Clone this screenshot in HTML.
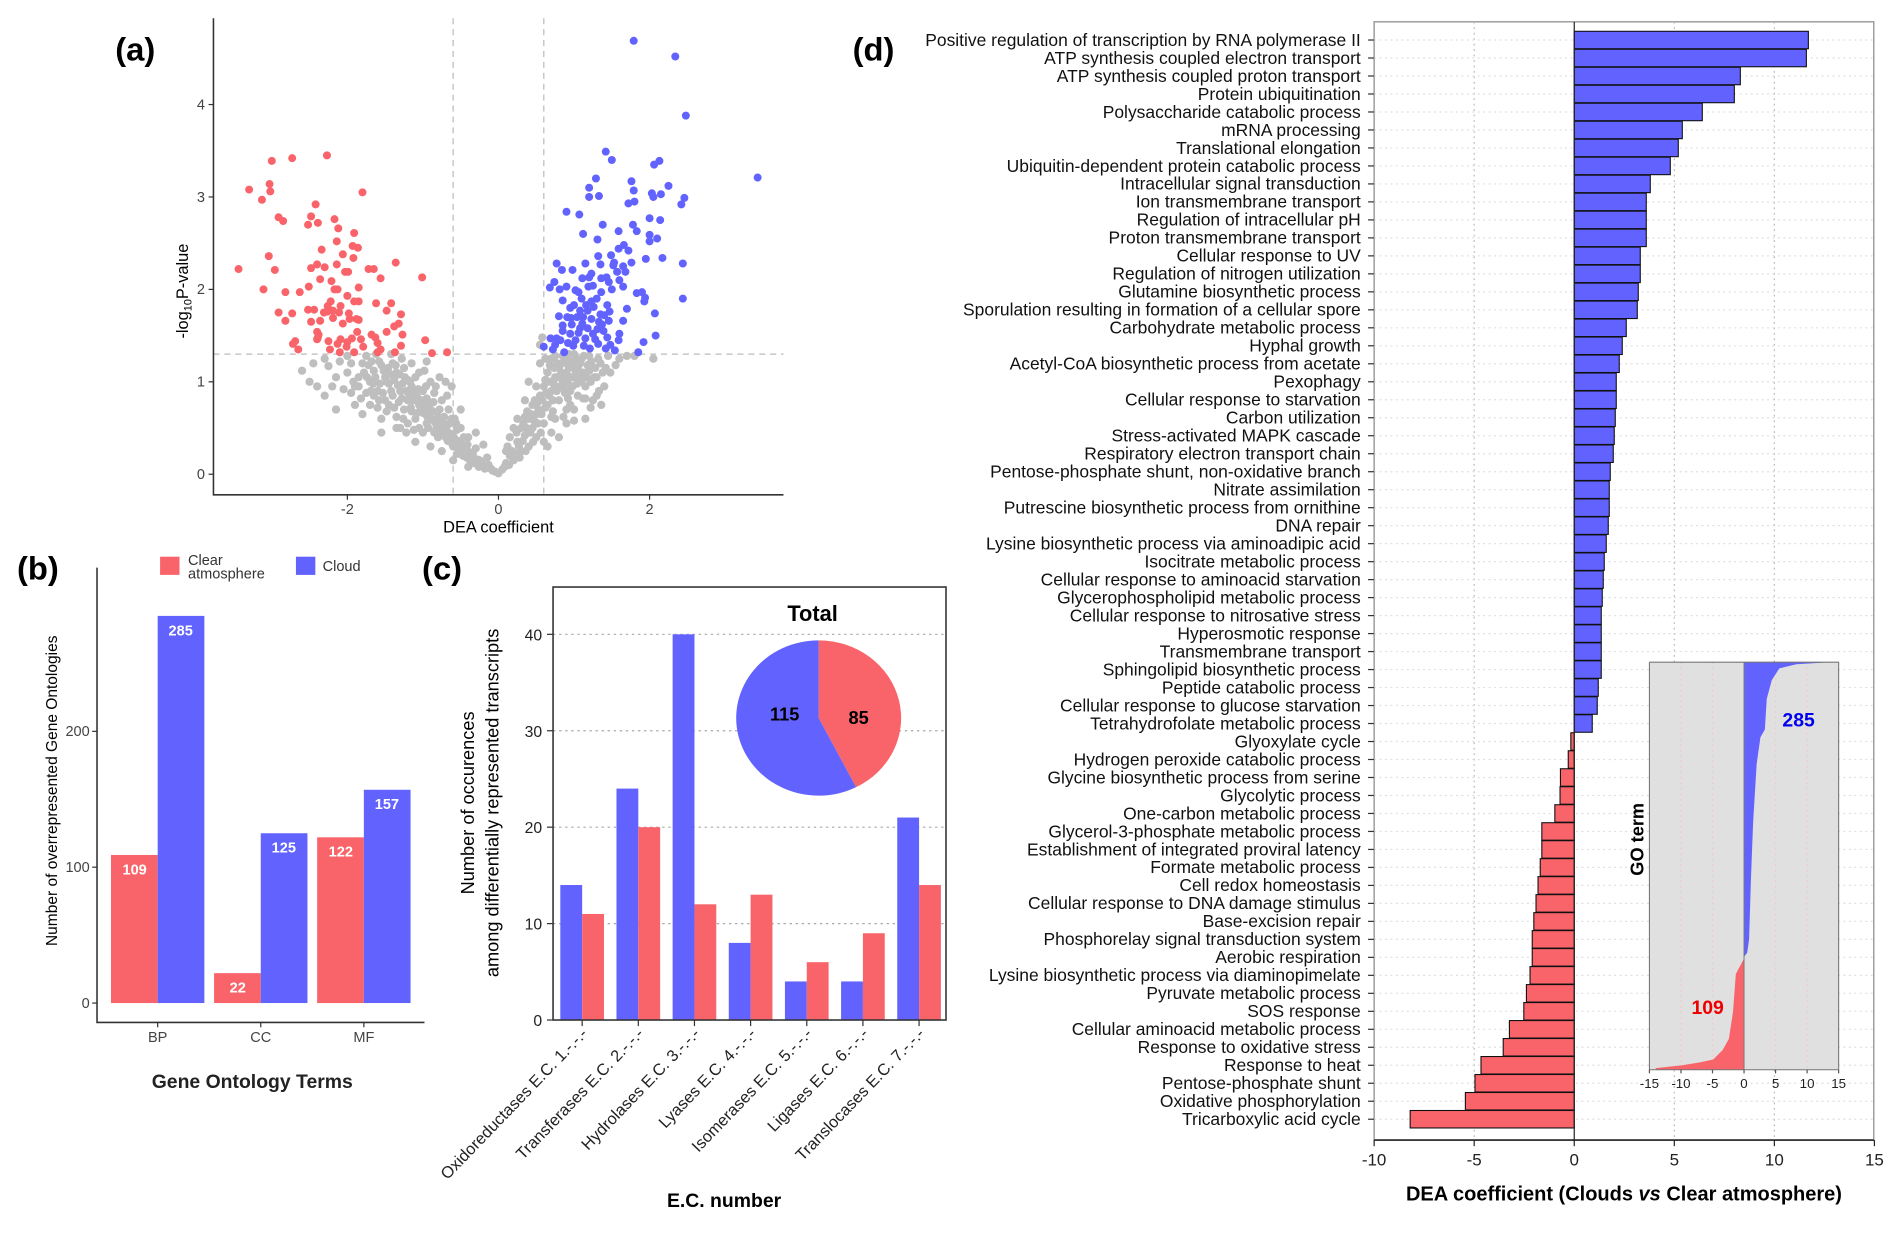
<!DOCTYPE html>
<html><head><meta charset="utf-8"><style>
html,body{margin:0;padding:0;background:#fff;}
svg{display:block;font-family:"Liberation Sans",Arial,sans-serif;}
</style></head><body>
<svg id="fig" width="1892" height="1233" viewBox="0 0 1560 1016.6" preserveAspectRatio="none" xmlns="http://www.w3.org/2000/svg"></svg>
<script>
// ---------- data: panel (a) volcano ----------
const redPts = [[-3.44,2.22],[-3.30,3.08],[-3.13,2.97],[-3.03,3.14],[-3.02,3.06],[-3.0,3.39],[-2.73,3.42],[-2.27,3.45],[-1.80,3.05],[-2.42,2.92],[-2.48,2.79],[-2.91,2.78],[-2.85,2.74],[-2.52,2.70],[-2.39,2.72],[-2.17,2.76],[-2.12,2.66],[-1.91,2.61],[-2.14,2.52],[-1.93,2.47],[-1.86,2.45],[-2.34,2.43],[-2.06,2.38],[-1.92,2.34],[-3.04,2.36],[-2.40,2.27],[-2.30,2.24],[-2.48,2.23],[-2.14,2.27],[-2.03,2.19],[-1.99,2.19],[-1.72,2.22],[-1.65,2.22],[-1.36,2.29],[-1.01,2.13],[-1.56,2.12],[-2.96,2.21],[-2.36,2.11],[-2.21,2.09],[-1.85,2.02],[-2.17,2.0],[-2.13,2.0],[-3.11,2.0],[-2.82,1.97],[-2.63,1.97],[-2.51,2.03],[-2.0,1.93],[-1.91,1.87],[-1.85,1.87],[-2.22,1.87],[-2.26,1.82],[-2.31,1.75],[-2.26,1.76],[-2.19,1.77],[-1.62,1.85],[-1.42,1.85],[-2.09,1.82],[-2.11,1.75],[-2.91,1.75],[-2.73,1.74],[-2.52,1.78],[-2.44,1.78],[-1.98,1.74],[-1.48,1.77],[-1.29,1.73],[-2.82,1.66],[-2.48,1.65],[-2.36,1.66],[-2.19,1.69],[-2.06,1.63],[-1.97,1.68],[-1.88,1.68],[-1.85,1.67],[-1.38,1.6],[-1.32,1.63],[-1.48,1.54],[-1.68,1.51],[-1.63,1.48],[-1.82,1.46],[-1.87,1.54],[-2.40,1.54],[-2.38,1.51],[-2.40,1.46],[-2.39,1.48],[-2.25,1.44],[-2.13,1.41],[-2.09,1.46],[-2.0,1.43],[-1.94,1.47],[-2.72,1.41],[-2.69,1.44],[-2.65,1.35],[-2.23,1.35],[-2.10,1.32],[-2.01,1.38],[-1.91,1.32],[-1.79,1.38],[-1.60,1.42],[-1.56,1.35],[-1.60,1.32],[-1.37,1.32],[-1.29,1.39],[-1.27,1.51],[-0.97,1.45],[-0.88,1.31],[-0.68,1.32]];
const bluePts = [[1.79,4.69],[2.34,4.52],[2.48,3.88],[3.43,3.21],[1.42,3.49],[1.50,3.40],[2.13,3.39],[2.06,3.35],[1.29,3.20],[1.76,3.17],[1.79,3.07],[2.25,3.12],[1.20,3.10],[1.20,3.0],[1.33,3.01],[2.03,3.04],[2.15,3.03],[2.05,3.0],[2.46,2.99],[2.42,2.92],[1.72,2.93],[1.80,2.95],[0.90,2.84],[1.07,2.81],[2.0,2.77],[2.14,2.75],[1.38,2.70],[1.78,2.70],[1.83,2.63],[1.59,2.63],[1.12,2.60],[1.31,2.54],[2.0,2.59],[2.10,2.55],[2.0,2.52],[1.66,2.48],[1.59,2.44],[1.72,2.42],[1.32,2.36],[1.49,2.37],[1.53,2.29],[2.17,2.34],[1.95,2.33],[1.76,2.29],[2.44,2.28],[0.77,2.28],[1.15,2.28],[1.35,2.27],[1.65,2.25],[1.52,2.26],[1.57,2.19],[1.68,2.19],[0.84,2.21],[0.98,2.21],[1.23,2.17],[1.11,2.12],[1.20,2.13],[1.36,2.12],[1.43,2.13],[1.46,2.08],[1.60,2.10],[1.65,2.03],[1.50,2.0],[0.74,2.08],[0.68,2.02],[0.81,2.0],[0.90,2.03],[1.02,1.99],[1.06,1.97],[1.19,2.03],[1.25,2.04],[1.36,1.97],[1.83,1.96],[1.90,1.97],[1.94,1.91],[1.93,1.87],[2.44,1.90],[0.85,1.88],[1.0,1.83],[1.16,1.83],[1.26,1.81],[1.44,1.83],[1.23,1.87],[1.70,1.79],[2.07,1.74],[1.08,1.77],[1.18,1.77],[1.35,1.73],[1.47,1.76],[1.65,1.66],[0.80,1.71],[0.91,1.70],[0.96,1.69],[1.04,1.70],[1.12,1.70],[1.23,1.68],[1.33,1.65],[1.46,1.66],[0.85,1.61],[0.97,1.62],[1.11,1.63],[1.18,1.58],[1.31,1.57],[1.39,1.55],[1.60,1.52],[0.69,1.47],[0.77,1.47],[0.85,1.55],[0.95,1.52],[1.06,1.53],[1.15,1.47],[1.28,1.46],[1.44,1.48],[2.08,1.50],[1.92,1.43],[0.60,1.38],[0.72,1.35],[0.87,1.32],[0.99,1.39],[1.13,1.39],[1.21,1.36],[1.32,1.41],[1.42,1.36],[1.54,1.34],[1.59,1.45],[1.85,1.32],[0.75,1.40],[0.82,1.45],[0.92,1.42],[1.02,1.45],[1.08,1.58],[1.25,1.52],[1.37,1.62],[1.40,1.72],[1.30,1.90],[1.10,1.90],[0.95,1.80],[1.48,1.40]];
const grayPts = [[-2.6,1.12],[-2.4,0.95],[-2.25,1.17],[-2.3,1.25],[-2.1,1.22],[-2.0,1.1],[-1.95,0.88],[-2.05,0.92],[-2.15,0.7],[-1.9,0.95],[-1.85,1.05],[-1.8,1.2],[-1.75,1.28],[-1.7,1.0],[-1.65,1.12],[-1.6,0.9],[-1.55,1.18],[-1.5,1.05],[-1.45,0.98],[-1.4,1.2],[-1.35,1.1],[-1.5,0.8],[-1.6,0.72],[-1.7,0.75],[-1.8,0.65],[-1.55,0.6],[-1.45,0.75],[-1.4,0.85],[-1.3,0.9],[-1.25,0.7],[-1.2,0.8],[-1.15,0.95],[-1.1,0.6],[-1.05,0.75],[-1.0,0.9],[-0.95,0.55],[-0.9,0.7],[-0.85,0.45],[-0.8,0.62],[-0.75,0.8],[-0.7,0.4],[-0.65,0.55],[-0.6,0.3],[-0.55,0.48],[-0.5,0.35],[-0.45,0.25],[-0.4,0.4],[-0.35,0.2],[-0.3,0.28],[-0.25,0.15],[-0.2,0.1],[-0.15,0.18],[-0.1,0.06],[-0.05,0.03],[0,0.01],[-1.2,0.55],[-1.0,0.45],[-1.3,0.5],[-1.35,0.62],[-1.62,1.3],[-1.28,1.25],[-1.2,1.02],[-0.98,1.12],[-0.7,1.0],[-0.68,0.85],[-0.5,0.7],[-0.85,0.88],[-1.1,1.05],[-1.75,0.88],[-1.9,0.75],[-2.0,1.28],[-1.55,0.45],[-1.1,0.35],[-0.9,0.3],[-0.75,0.25],[-0.6,0.15],[-0.4,0.08],[-0.3,0.45],[-0.2,0.32],[-0.58,0.6],[-0.9,1.0],[-1.42,1.3],[-1.85,0.95],[-1.65,0.85],[-1.25,1.15],[-1.05,0.5],[-0.8,0.4],[-0.55,0.22],[-1.48,0.68],[-1.72,1.18],[-1.32,0.78],[-0.95,0.82],[-1.15,0.68],[-0.65,0.38],
[-1.58,1.22],[-1.52,1.12],[-1.48,1.0],[-1.46,1.15],[-1.43,1.08],[-1.38,1.02],[-1.36,1.18],[-1.33,0.96],[-1.31,1.08],[-1.27,0.98],[-1.24,1.05],[-1.22,0.9],[-1.18,0.86],[-1.17,1.0],[-1.13,0.8],[-1.12,0.9],[-1.08,0.84],[-1.06,0.92],[-1.03,0.7],[-1.02,0.8],[-0.99,0.66],[-0.97,0.74],[-0.94,0.62],[-0.92,0.78],[-0.89,0.6],[-0.87,0.68],[-0.84,0.56],[-0.82,0.5],[-0.79,0.58],[-0.77,0.48],[-0.74,0.55],[-0.72,0.45],[-0.69,0.5],[-0.67,0.36],[-0.64,0.44],[-0.62,0.34],[-0.59,0.4],[-0.57,0.3],[-0.54,0.36],[-0.52,0.26],[-0.49,0.3],[-0.47,0.2],[-0.44,0.3],[-0.42,0.18],[-0.39,0.24],[-0.37,0.14],[-0.34,0.22],[-0.32,0.12],[-0.28,0.16],[-0.26,0.08],[-0.22,0.12],[-0.18,0.06],[-0.13,0.1],[-0.08,0.04],[-1.78,1.1],[-1.68,1.22],[-1.66,0.98],[-1.63,1.05],[-1.57,0.98],[-1.53,0.88],[-1.42,0.9],[-1.38,0.72],[-1.28,0.82],[-1.26,0.6],[-1.16,0.72],[-1.08,0.66],[-0.96,0.95],[-0.93,0.5],[-0.86,0.78],[-0.83,0.95],[-0.78,0.7],[-0.72,0.62],[-0.66,0.7],[-0.62,0.6],[-0.56,0.55],[-0.5,0.5],[-0.46,0.4],[-0.41,0.32],[-2.2,0.95],[-2.45,1.2],[-2.15,1.05],[-1.95,1.2],[-1.92,1.0],[-1.82,0.82],[-1.74,1.05],[-1.69,0.9],[-1.58,0.8],[-1.35,0.5],[-1.22,0.45],[-1.12,0.48],[-2.3,0.85],[-2.5,1.0],[-1.15,1.2],[-1.05,1.1],[-0.95,1.22],[-0.62,0.95],[-0.78,1.05],
[0.05,0.05],[0.1,0.12],[0.15,0.2],[0.12,0.3],[0.2,0.15],[0.25,0.35],[0.3,0.25],[0.3,0.5],[0.35,0.42],[0.4,0.3],[0.4,0.6],[0.45,0.5],[0.45,0.75],[0.5,0.4],[0.5,0.65],[0.55,0.85],[0.55,1.2],[0.6,0.55],[0.6,0.95],[0.65,0.75],[0.65,1.1],[0.7,0.9],[0.7,1.25],[0.75,0.6],[0.75,1.05],[0.8,0.8],[0.8,1.15],[0.85,1.0],[0.85,1.28],[0.9,0.7],[0.9,1.1],[0.95,0.9],[0.95,1.22],[1.0,1.05],[1.0,1.3],[1.05,0.85],[1.05,1.15],[1.1,1.0],[1.1,1.25],[1.15,0.95],[1.2,1.12],[1.2,1.28],[1.25,0.8],[1.3,1.05],[1.35,1.2],[1.4,0.95],[1.45,1.28],[1.6,1.25],[0.35,0.8],[0.5,0.95],[0.6,0.35],[0.7,0.45],[0.2,0.5],[0.15,0.4],[0.25,0.6],[0.4,1.0],[0.55,1.4],[0.58,1.48],[1.8,1.28],[2.05,1.25],[0.9,0.55],[1.0,0.7],[0.8,0.4],[0.65,0.3],[0.1,0.25],[1.15,0.6],[0.72,0.68],[0.88,0.88],[0.98,1.18],[1.12,0.82],[0.62,1.02],[0.78,1.2],[0.52,0.78],[0.35,0.62],[0.28,0.18],[1.28,1.15],[0.93,1.3],
[0.08,0.08],[0.14,0.1],[0.18,0.25],[0.22,0.22],[0.24,0.45],[0.27,0.3],[0.32,0.36],[0.33,0.55],[0.37,0.5],[0.38,0.68],[0.42,0.45],[0.43,0.65],[0.47,0.58],[0.48,0.8],[0.52,0.55],[0.53,0.7],[0.57,0.65],[0.58,0.8],[0.62,0.72],[0.63,0.88],[0.67,0.85],[0.68,1.0],[0.72,0.8],[0.73,0.98],[0.74,1.15],[0.77,0.9],[0.78,1.05],[0.82,0.95],[0.83,1.1],[0.84,1.2],[0.87,0.92],[0.88,1.05],[0.89,1.22],[0.92,0.98],[0.93,1.15],[0.97,1.05],[0.98,0.95],[1.02,1.12],[1.03,1.25],[1.04,0.98],[1.07,1.05],[1.08,1.2],[1.12,1.1],[1.13,1.28],[1.17,1.05],[1.18,1.18],[1.22,1.0],[1.23,1.22],[1.27,1.05],[1.32,1.25],[1.33,0.9],[1.38,1.1],[1.42,1.15],[1.36,0.75],[1.3,0.85],[1.22,0.72],[0.95,0.75],[0.86,0.62],[0.7,0.62],[0.56,0.45],[0.46,0.35],[0.36,0.25],[0.62,1.25],[0.68,1.18],[0.92,0.82],[1.48,1.1],[1.55,1.18],[1.7,1.28],[0.75,1.28],[1.15,0.82],[1.0,0.58]];
const aXTicks = [-2,0,2];
const aYTicks = [0,1,2,3,4];

// ---------- data: panel (b) ----------
const bCats = ["BP","CC","MF"];
const bClear = [109,22,122];
const bCloud = [285,125,157];
const bYTicks = [0,100,200];

// ---------- data: panel (c) ----------
const cCats = ["Oxidoreductases E.C. 1.-.-.-","Transferases E.C. 2.-.-.-","Hydrolases E.C. 3.-.-.-","Lyases E.C. 4.-.-.-","Isomerases E.C. 5.-.-.-","Ligases E.C. 6.-.-.-","Translocases E.C. 7.-.-.-"];
const cCloud = [14,24,40,8,4,4,21];
const cClear = [11,20,12,13,6,9,14];
const cYTicks = [0,10,20,30,40];
const pieVals = [85,115];

// ---------- data: panel (d) ----------
const dTerms = ["Positive regulation of transcription by RNA polymerase II","ATP synthesis coupled electron transport","ATP synthesis coupled proton transport","Protein ubiquitination","Polysaccharide catabolic process","mRNA processing","Translational elongation","Ubiquitin-dependent protein catabolic process","Intracellular signal transduction","Ion transmembrane transport","Regulation of intracellular pH","Proton transmembrane transport","Cellular response to UV","Regulation of nitrogen utilization","Glutamine biosynthetic process","Sporulation resulting in formation of a cellular spore","Carbohydrate metabolic process","Hyphal growth","Acetyl-CoA biosynthetic process from acetate","Pexophagy","Cellular response to starvation","Carbon utilization","Stress-activated MAPK cascade","Respiratory electron transport chain","Pentose-phosphate shunt, non-oxidative branch","Nitrate assimilation","Putrescine biosynthetic process from ornithine","DNA repair","Lysine biosynthetic process via aminoadipic acid","Isocitrate metabolic process","Cellular response to aminoacid starvation","Glycerophospholipid metabolic process","Cellular response to nitrosative stress","Hyperosmotic response","Transmembrane transport","Sphingolipid biosynthetic process","Peptide catabolic process","Cellular response to glucose starvation","Tetrahydrofolate metabolic process","Glyoxylate cycle","Hydrogen peroxide catabolic process","Glycine biosynthetic process from serine","Glycolytic process","One-carbon metabolic process","Glycerol-3-phosphate metabolic process","Establishment of integrated proviral latency","Formate metabolic process","Cell redox homeostasis","Cellular response to DNA damage stimulus","Base-excision repair","Phosphorelay signal transduction system","Aerobic respiration","Lysine biosynthetic process via diaminopimelate","Pyruvate metabolic process","SOS response","Cellular aminoacid metabolic process","Response to oxidative stress","Response to heat","Pentose-phosphate shunt ","Oxidative phosphorylation","Tricarboxylic acid cycle"];
const dValues = [11.7,11.6,8.3,8.0,6.4,5.4,5.2,4.8,3.8,3.6,3.6,3.6,3.3,3.3,3.2,3.15,2.6,2.4,2.25,2.1,2.1,2.05,2.0,1.95,1.8,1.75,1.75,1.7,1.6,1.5,1.45,1.4,1.35,1.35,1.35,1.35,1.2,1.15,0.9,-0.17,-0.3,-0.69,-0.71,-0.97,-1.62,-1.62,-1.7,-1.81,-1.91,-2.02,-2.1,-2.1,-2.21,-2.39,-2.52,-3.24,-3.55,-4.66,-4.96,-5.44,-8.2];
const dXTicks = [-10,-5,0,5,10,15];
// inset cumulative curves: rank fraction (0=top) and value
const insBlueRank = [0,0.005,0.015,0.044,0.09,0.165,0.184,0.25,0.39,0.53,0.68,0.713,0.723];
const insBlueVal = [13.6,8.3,5.6,4.4,3.6,3.3,2.6,2.0,1.45,1.1,0.8,0.5,0];
const insRedRank = [0.727,0.765,0.858,0.924,0.952,0.975,0.982,0.989,0.996];
const insRedVal = [0,-1.3,-1.75,-2.4,-3.4,-4.9,-7,-9.8,-14];
const insXTicks = [-15,-10,-5,0,5,10,15];

const RED = "#F9646A", BLUE = "#6262FF", GRAY = "#BEBEBE";
const svg = document.getElementById('fig');
const NS = "http://www.w3.org/2000/svg";
function mk(tag, attrs, parent){
  const e = document.createElementNS(NS, tag);
  for (const k in attrs) e.setAttribute(k, attrs[k]);
  (parent||svg).appendChild(e);
  return e;
}
function txt(s, attrs, parent){ const e = mk('text', attrs, parent); e.textContent = s; return e; }

// ================= Panel (a) =================
const gA = mk('g', {});


const ax = v => 411 + v*62.3;
const ay = v => 391 - v*76.2;
let t = txt('(a)', {x:95, y:50, 'font-size':27, 'font-weight':'bold'}, gA);


let l;
l = mk('line', {x1:ax(-0.6), x2:ax(-0.6), y1:15, y2:408, stroke:'#bbb', 'stroke-dasharray':'5,4', 'stroke-width':1}, gA);


l = mk('line', {x1:ax(0.6), x2:ax(0.6), y1:15, y2:408, stroke:'#bbb', 'stroke-dasharray':'5,4', 'stroke-width':1}, gA);


l = mk('line', {x1:176, x2:646, y1:ay(1.3), y2:ay(1.3), stroke:'#bbb', 'stroke-dasharray':'5,4', 'stroke-width':1}, gA);


grayPts.forEach(p => {
  const c = mk('circle', {cx:ax(p[0]), cy:ay(p[1]), r:3.4, fill:GRAY}, gA);
  
  
});
redPts.forEach(p => {
  const c = mk('circle', {cx:ax(p[0]), cy:ay(p[1]), r:3.3, fill:RED}, gA);
  
  
});
bluePts.forEach(p => {
  const c = mk('circle', {cx:ax(p[0]), cy:ay(p[1]), r:3.3, fill:BLUE}, gA);
  
  
});
l = mk('path', {d:'M176,15 V408 H646', fill:'none', stroke:'#333', 'stroke-width':1.3}, gA);


aXTicks.forEach(v => {
  mk('line', {x1:ax(v), x2:ax(v), y1:408, y2:412, stroke:'#333'}, gA);
  const e = txt(String(v), {x:ax(v), y:424, 'font-size':12, fill:'#444', 'text-anchor':'middle'}, gA);
  
  
});
aYTicks.forEach(v => {
  mk('line', {x1:172, x2:176, y1:ay(v), y2:ay(v), stroke:'#333'}, gA);
  const e = txt(String(v), {x:169, y:ay(v)+4, 'font-size':12, fill:'#444', 'text-anchor':'end'}, gA);
  
  
});
t = txt('DEA coefficient', {x:411, y:439, 'font-size':13.5, 'text-anchor':'middle'}, gA);


t = mk('text', {transform:'translate(155,240) rotate(-90)', 'font-size':13.5, 'text-anchor':'middle'}, gA);
t.innerHTML = '-log<tspan font-size="9" dy="3">10</tspan><tspan dy="-3">P-value</tspan>';



// ================= Panel (b) =================
const gB = mk('g', {});


const by = v => 827 - v*1.12;
t = txt('(b)', {x:14, y:478, 'font-size':27, 'font-weight':'bold'}, gB);


let r = mk('rect', {x:132, y:459, width:16, height:15, fill:RED}, gB);


t = txt('Clear', {x:155, y:466, 'font-size':12, fill:'#333'}, gB);


t = txt('atmosphere', {x:155, y:477, 'font-size':12, fill:'#333'}, gB);


r = mk('rect', {x:244, y:459, width:16, height:15, fill:BLUE}, gB);


t = txt('Cloud', {x:266, y:471, 'font-size':12, fill:'#333'}, gB);


const bCenters = bCats.map((c,i) => 130 + i*85);
bCats.forEach((c,i) => {
  const cx = bCenters[i];
  const r1 = mk('rect', {x:cx-38.5, y:by(bClear[i]), width:38.5, height:by(0)-by(bClear[i]), fill:RED}, gB);
  
  
  const r2 = mk('rect', {x:cx, y:by(bCloud[i]), width:38.5, height:by(0)-by(bCloud[i]), fill:BLUE}, gB);
  
  
  let e = txt(String(bClear[i]), {x:cx-19, y:by(bClear[i])+16, 'font-size':12, 'font-weight':'bold', fill:'#fff', 'text-anchor':'middle'}, gB);
  
  
  e = txt(String(bCloud[i]), {x:cx+19, y:by(bCloud[i])+16, 'font-size':12, 'font-weight':'bold', fill:'#fff', 'text-anchor':'middle'}, gB);
  
  
  mk('line', {x1:cx, x2:cx, y1:843, y2:847, stroke:'#333'}, gB);
  e = txt(c, {x:cx, y:859, 'font-size':12, fill:'#444', 'text-anchor':'middle'}, gB);
  
  
});
l = mk('path', {d:'M80,468 V843 H350', fill:'none', stroke:'#333', 'stroke-width':1.3}, gB);


bYTicks.forEach(v => {
  mk('line', {x1:76, x2:80, y1:by(v), y2:by(v), stroke:'#333'}, gB);
  const e = txt(String(v), {x:74, y:by(v)+4, 'font-size':12, fill:'#444', 'text-anchor':'end'}, gB);
  
  
});
t = txt('Number of overrepresented Gene Ontologies', {transform:'translate(47,652) rotate(-90)', 'font-size':12.8, 'text-anchor':'middle'}, gB);


t = txt('Gene Ontology Terms', {x:208, y:897, 'font-size':16, 'font-weight':'bold', fill:'#222', 'text-anchor':'middle'}, gB);



// ================= Panel (c) =================
const gC = mk('g', {});


const cy = v => 841 - v*7.95;
t = txt('(c)', {x:348, y:478, 'font-size':27, 'font-weight':'bold'}, gC);


cYTicks.forEach(v => {
  if (v > 0) {
    const g = mk('line', {x1:456, x2:780, y1:cy(v), y2:cy(v), stroke:'#aaa', 'stroke-dasharray':'2,3'}, gC);
    
    
  }
  mk('line', {x1:451, x2:456, y1:cy(v), y2:cy(v), stroke:'#333'}, gC);
  const e = txt(String(v), {x:447, y:cy(v)+5, 'font-size':13, fill:'#222', 'text-anchor':'end'}, gC);
  
  
});
cCats.forEach((c,i) => {
  const cx = 480 + i*46.3;
  const r1 = mk('rect', {x:cx-18, y:cy(cCloud[i]), width:18, height:cy(0)-cy(cCloud[i]), fill:BLUE}, gC);
  
  
  const r2 = mk('rect', {x:cx, y:cy(cClear[i]), width:18, height:cy(0)-cy(cClear[i]), fill:RED}, gC);
  
  
  mk('line', {x1:cx, x2:cx, y1:841, y2:846, stroke:'#333'}, gC);
  const e = txt(c, {transform:'translate(' + (cx+5) + ',853) rotate(-46)', 'font-size':13.5, fill:'#222', 'text-anchor':'end'}, gC);
  
  
});
l = mk('rect', {x:456, y:484, width:324, height:357, fill:'none', stroke:'#333', 'stroke-width':1.3}, gC);


// pie
const pcx = 675, pcy = 592, prx = 68, pry = 64;
const pieTotal = pieVals[0] + pieVals[1];
const ang = 2*Math.PI*pieVals[0]/pieTotal;
const ex = pcx + prx*Math.sin(ang), ey = pcy - pry*Math.cos(ang);
let pp = mk('path', {d:`M${pcx},${pcy} L${pcx},${pcy-pry} A${prx},${pry} 0 ${ang>Math.PI?1:0} 1 ${ex},${ey} Z`, fill:RED}, gC);


pp = mk('path', {d:`M${pcx},${pcy} L${ex},${ey} A${prx},${pry} 0 ${ang>Math.PI?0:1} 1 ${pcx},${pcy-pry} Z`, fill:BLUE}, gC);


t = txt(String(pieVals[1]), {x:647, y:594, 'font-size':15, 'font-weight':'bold', 'text-anchor':'middle'}, gC);


t = txt(String(pieVals[0]), {x:708, y:597, 'font-size':15, 'font-weight':'bold', 'text-anchor':'middle'}, gC);


t = txt('Total', {x:670, y:512, 'font-size':18, 'font-weight':'bold', 'text-anchor':'middle'}, gC);


t = txt('Number of occurences', {transform:'translate(391,662) rotate(-90)', 'font-size':15, 'text-anchor':'middle'}, gC);


t = txt('among differentially represented transcripts', {transform:'translate(411,662) rotate(-90)', 'font-size':15, 'text-anchor':'middle'}, gC);


t = txt('E.C. number', {x:597, y:995, 'font-size':16, 'font-weight':'bold', 'text-anchor':'middle'}, gC);



// ================= Panel (d) =================
const gD = mk('g', {});


const dx = v => 1298 + v*16.5;
const dy = i => 33 + i*14.83;
t = txt('(d)', {x:703, y:50, 'font-size':27, 'font-weight':'bold'}, gD);


l = mk('rect', {x:1133, y:18, width:412, height:922, fill:'none', stroke:'#888', 'stroke-width':1}, gD);


dXTicks.forEach(v => {
  if (v !== 0 && v !== -10 && v !== 15) {
    const g = mk('line', {x1:dx(v), x2:dx(v), y1:18, y2:940, stroke:'#bbb', 'stroke-dasharray':'1.5,3'}, gD);
    
    
  }
});
dTerms.forEach((name,i) => {
  const g = mk('line', {x1:1133, x2:1545, y1:dy(i), y2:dy(i), stroke:'#ddd', 'stroke-dasharray':'1.5,3'}, gD);
  
  
});
dTerms.forEach((name,i) => {
  const v = dValues[i];
  const b = mk('rect', {x:Math.min(dx(0),dx(v)), y:dy(i)-7.2, width:Math.abs(dx(v)-dx(0)), height:14.4, fill:v>=0?BLUE:RED, stroke:'#111', 'stroke-width':0.9}, gD);
  
  
  mk('line', {x1:1128, x2:1133, y1:dy(i), y2:dy(i), stroke:'#333'}, gD);
  const e = txt(name, {x:1122, y:dy(i)+4.8, 'font-size':14.4, fill:'#111', 'text-anchor':'end'}, gD);
  
  
});
l = mk('line', {x1:dx(0), x2:dx(0), y1:18, y2:940, stroke:'#222', 'stroke-width':1}, gD);


l = mk('line', {x1:1133, x2:1545, y1:940, y2:940, stroke:'#222', 'stroke-width':1.3}, gD);


dXTicks.forEach(v => {
  mk('line', {x1:dx(v), x2:dx(v), y1:940, y2:945, stroke:'#222'}, gD);
  const e = txt(String(v), {x:dx(v), y:961, 'font-size':14, fill:'#222', 'text-anchor':'middle'}, gD);
  
  
});
t = mk('text', {x:1339, y:990, 'font-size':16.5, 'font-weight':'bold', 'text-anchor':'middle'}, gD);
t.innerHTML = 'DEA coefficient (Clouds <tspan font-style="italic">vs</tspan> Clear atmosphere)';



// inset
const gI = mk('g', {});


const ix = v => 1438 + v*5.2;
const iy = f => 546 + f*336;
r = mk('rect', {x:1360, y:546, width:156, height:336, fill:'#e0e0e0'}, gI);


insXTicks.forEach(v => {
  if (v !== 0 && Math.abs(v) !== 15) {
    const g = mk('line', {x1:ix(v), x2:ix(v), y1:546, y2:882, stroke:'#f4c8c8', 'stroke-dasharray':'1.5,3'}, gI);
    
    
  }
});
let dpath = `M${ix(0)},${iy(insBlueRank[0])}`;
insBlueRank.forEach((f,i) => { dpath += ` L${ix(insBlueVal[i])},${iy(f)}`; });
dpath += ` L${ix(0)},${iy(insBlueRank[insBlueRank.length-1])} Z`;
let ip = mk('path', {d:dpath, fill:BLUE}, gI);


dpath = `M${ix(0)},${iy(insRedRank[0])}`;
insRedRank.forEach((f,i) => { dpath += ` L${ix(insRedVal[i])},${iy(f)}`; });
dpath += ` L${ix(insRedVal[insRedVal.length-1])},${iy(1)} L${ix(0)},${iy(1)} Z`;
ip = mk('path', {d:dpath, fill:RED}, gI);


l = mk('line', {x1:ix(0), x2:ix(0), y1:546, y2:882, stroke:'#777', 'stroke-width':0.8}, gI);


l = mk('path', {d:'M1360,546 V882 H1516 M1360,546 H1516 V882', fill:'none', stroke:'#777', 'stroke-width':0.9}, gI);


insXTicks.forEach(v => {
  mk('line', {x1:ix(v), x2:ix(v), y1:882, y2:885, stroke:'#555'}, gI);
  const e = txt(String(v), {x:ix(v), y:897, 'font-size':11, fill:'#222', 'text-anchor':'middle'}, gI);
  
  
});
t = txt('GO term', {transform:'translate(1355,692) rotate(-90)', 'font-size':15, 'font-weight':'bold', 'text-anchor':'middle'}, gI);


t = txt('285', {x:1483, y:599, 'font-size':16, 'font-weight':'bold', fill:'#0000ee', 'text-anchor':'middle'}, gI);


t = txt('109', {x:1408, y:836, 'font-size':16, 'font-weight':'bold', fill:'#ee0000', 'text-anchor':'middle'}, gI);


</script>
</body></html>
